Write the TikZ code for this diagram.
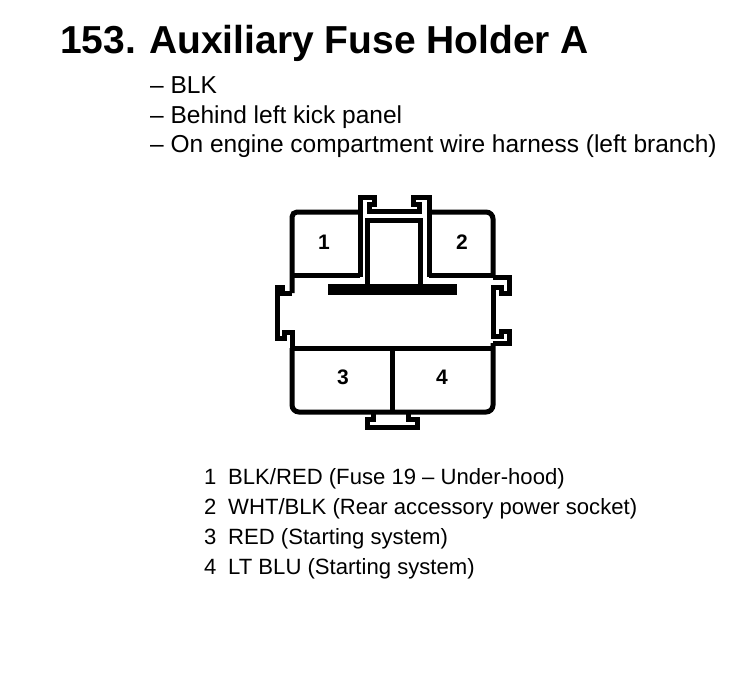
\documentclass[tikz,border=0pt]{standalone}
\usepackage{fontspec}
\setmainfont{Liberation Sans}
\usetikzlibrary{positioning}

\tikzset{
  wire/.style={line width=5pt,line join=miter},
  heading/.style={anchor=base west,inner sep=0pt,font=\fontsize{39}{42}\selectfont\bfseries},
  note/.style={anchor=base west,inner sep=0pt,font=\fontsize{24.5}{28}\selectfont},
  entry/.style={anchor=base west,inner sep=0pt,font=\fontsize{22.1}{26}\selectfont},
  pin/.style={inner sep=0pt,text height=15pt,text depth=0pt,font=\fontsize{21}{22}\selectfont\bfseries}
}

\begin{document}
\begin{tikzpicture}[x=1pt,y=-1pt]
\useasboundingbox (0,0) rectangle (752,674);

\node[heading] (num) at (60,54) {153.};
\node[heading] (title) at (149,54) {Auxiliary Fuse Holder A};

\node[note] (n1) at (150,94) {-- BLK};
\node[note] (n2) at (150,124) {-- Behind left kick panel};
\node[note] (n3) at (150,153) {-- On engine compartment wire harness (left branch)};

%outer shell
\draw[wire] (360,275) -- (292,275);
\draw[wire,rounded corners=5pt] (360,212) -- (292,212) -- (292,293);
\draw[wire] (292,293) -- (282,293) -- (282,287) -- (277,287) -- (277,338) -- (284,338) -- (284,332) -- (292,332) -- (292,348);
\draw[wire,rounded corners=7pt] (292,348) -- (292,412) -- (493,412) -- (493,343);
\draw[wire] (292,348) -- (493,348);
\draw[wire] (392,348) -- (392,412);
\draw[wire] (493,343) -- (509,343) -- (509,331) -- (501,331) -- (501,336) -- (493,336) -- (493,287) -- (501,287) -- (501,293) -- (509,293) -- (509,277) -- (493,277);
\draw[wire,rounded corners=7pt] (429,212) -- (493,212) -- (493,277);
\draw[wire] (493,275) -- (429,275);

%top tab
\draw[wire] (360,277) -- (360,197) -- (374,197) -- (374,204) -- (369,204) -- (369,211) -- (419,211) -- (419,204) -- (413,204) -- (413,197) -- (429,197) -- (429,277);
\draw[wire] (367,285) -- (367,220.5) -- (420.5,220.5) -- (420.5,285);
\draw[line width=11pt] (328,289) -- (457,289);

%bottom tab
\draw[wire] (373,412) -- (373,419) -- (367,419) -- (367,427) -- (417,427) -- (417,419) -- (408,419) -- (408,412);

\node[pin] (p1) at (324,242) {1};
\node[pin] (p2) at (462,242) {2};
\node[pin] (p3) at (343,377) {3};
\node[pin] (p4) at (442,377) {4};

\node[entry] (k1) at (204,484) {1};
\node[entry] (k2) at (204,514) {2};
\node[entry] (k3) at (204,544) {3};
\node[entry] (k4) at (204,574) {4};
\node[entry] (c1) at (228,484) {BLK/RED (Fuse 19 -- Under-hood)};
\node[entry] (c2) at (228,514) {WHT/BLK (Rear accessory power socket)};
\node[entry] (c3) at (228,544) {RED (Starting system)};
\node[entry] (c4) at (228,574) {LT BLU (Starting system)};

\end{tikzpicture}
\end{document}
